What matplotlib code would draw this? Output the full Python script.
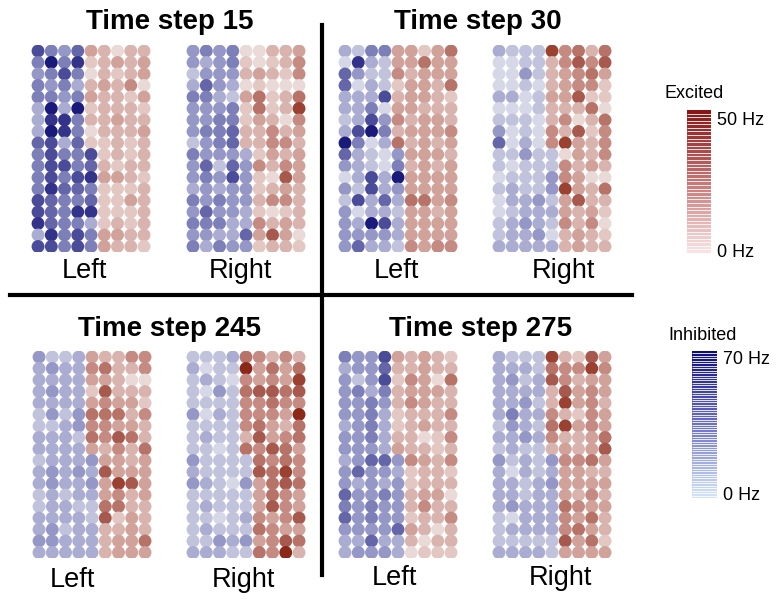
import numpy as np
import matplotlib.pyplot as plt
from matplotlib.colors import LinearSegmentedColormap, BoundaryNorm
from matplotlib.cm import ScalarMappable

plt.rcParams['font.family'] = ['Liberation Sans', 'DejaVu Sans']

W, H = 784, 603

# firing level 0-9 of each neuron, 18 rows x 9 columns per population.
# columns 1-4 and the lower half of column 5 are inhibited (blue),
# the upper half of column 5 and columns 6-9 are excited (red)
ts15_left = [
    [7, 5, 4, 6, 4, 3, 1, 3, 3],
    [5, 9, 5, 8, 2, 3, 4, 3, 4],
    [4, 5, 7, 5, 1, 3, 2, 3, 4],
    [5, 4, 5, 3, 3, 4, 3, 5, 1],
    [5, 5, 4, 5, 4, 3, 3, 2, 4],
    [3, 9, 3, 9, 2, 3, 3, 3, 2],
    [3, 8, 8, 5, 3, 3, 4, 3, 3],
    [3, 9, 8, 5, 1, 3, 3, 3, 4],
    [6, 7, 3, 6, 2, 2, 3, 2, 3],
    [5, 7, 5, 5, 7, 2, 3, 2, 3],
    [5, 7, 7, 5, 6, 3, 2, 3, 3],
    [5, 7, 5, 7, 8, 4, 4, 3, 2],
    [5, 8, 6, 6, 5, 2, 2, 2, 3],
    [7, 6, 5, 5, 6, 2, 2, 4, 3],
    [7, 6, 5, 8, 8, 2, 2, 2, 3],
    [8, 6, 5, 5, 3, 2, 3, 2, 3],
    [3, 8, 5, 7, 5, 4, 4, 3, 3],
    [7, 7, 5, 7, 5, 4, 3, 3, 2],
]
ts15_right = [
    [4, 5, 4, 5, 1, 1, 3, 3, 4],
    [4, 3, 4, 5, 2, 1, 2, 3, 5],
    [2, 4, 4, 4, 3, 4, 3, 2, 5],
    [3, 6, 4, 3, 1, 2, 1, 1, 1],
    [5, 5, 3, 2, 4, 6, 2, 3, 6],
    [4, 4, 4, 5, 2, 6, 2, 3, 8],
    [4, 4, 5, 5, 2, 4, 3, 1, 5],
    [4, 5, 5, 6, 3, 3, 5, 3, 4],
    [2, 4, 5, 6, 3, 3, 5, 5, 3],
    [5, 4, 4, 4, 3, 2, 4, 3, 4],
    [4, 6, 2, 6, 4, 5, 3, 5, 4],
    [4, 5, 4, 7, 4, 2, 1, 7, 4],
    [3, 4, 3, 4, 4, 2, 3, 4, 3],
    [5, 4, 5, 4, 4, 3, 5, 5, 3],
    [4, 6, 4, 4, 3, 2, 1, 2, 3],
    [5, 5, 5, 3, 3, 5, 3, 4, 3],
    [4, 4, 3, 3, 6, 4, 7, 4, 1],
    [5, 3, 5, 4, 4, 2, 3, 3, 2],
]
ts30_left = [
    [3, 2, 5, 5, 4, 4, 2, 4, 6],
    [1, 8, 3, 2, 4, 4, 6, 4, 4],
    [6, 4, 2, 2, 5, 3, 4, 4, 4],
    [6, 1, 3, 2, 2, 4, 4, 3, 6],
    [3, 3, 3, 7, 3, 4, 4, 3, 2],
    [3, 3, 5, 1, 4, 4, 3, 3, 3],
    [2, 3, 7, 4, 5, 3, 4, 4, 3],
    [3, 7, 9, 5, 3, 4, 4, 4, 5],
    [9, 5, 1, 3, 6, 3, 4, 3, 4],
    [6, 3, 2, 1, 4, 4, 4, 4, 3],
    [4, 3, 2, 1, 5, 3, 4, 3, 4],
    [1, 3, 7, 3, 9, 4, 4, 4, 4],
    [4, 2, 7, 3, 4, 4, 4, 4, 4],
    [2, 7, 3, 6, 3, 6, 6, 4, 5],
    [4, 1, 3, 3, 2, 4, 4, 3, 4],
    [4, 3, 9, 7, 3, 4, 4, 4, 4],
    [4, 4, 4, 4, 3, 4, 4, 4, 4],
    [4, 6, 3, 3, 2, 5, 4, 5, 5],
]
ts30_right = [
    [3, 2, 2, 2, 8, 5, 6, 3, 6],
    [1, 1, 2, 2, 3, 5, 7, 5, 7],
    [1, 1, 4, 2, 3, 4, 5, 6, 4],
    [1, 1, 2, 1, 3, 4, 5, 5, 2],
    [3, 3, 1, 2, 4, 4, 7, 2, 2],
    [1, 1, 1, 2, 3, 3, 3, 6, 1],
    [2, 2, 2, 1, 3, 5, 1, 3, 6],
    [4, 1, 2, 1, 5, 3, 7, 2, 5],
    [6, 1, 3, 1, 5, 8, 4, 3, 5],
    [2, 2, 4, 2, 2, 1, 4, 3, 5],
    [2, 1, 2, 2, 2, 5, 3, 4, 3],
    [1, 2, 2, 2, 4, 5, 4, 1, 1],
    [2, 3, 2, 2, 4, 8, 4, 3, 6],
    [1, 3, 3, 4, 2, 4, 7, 3, 3],
    [1, 2, 3, 3, 3, 4, 3, 4, 2],
    [2, 3, 4, 3, 2, 5, 3, 5, 1],
    [2, 3, 3, 4, 1, 3, 4, 3, 2],
    [3, 3, 3, 3, 3, 3, 4, 3, 3],
]
ts245_left = [
    [4, 2, 2, 3, 4, 3, 3, 5, 5],
    [3, 4, 3, 3, 5, 6, 3, 3, 5],
    [3, 3, 3, 3, 4, 4, 3, 1, 1],
    [3, 4, 3, 3, 2, 7, 3, 3, 3],
    [3, 3, 3, 3, 4, 5, 4, 4, 2],
    [2, 4, 2, 4, 6, 6, 6, 3, 5],
    [2, 2, 3, 4, 5, 5, 4, 4, 3],
    [3, 3, 3, 2, 6, 5, 7, 6, 3],
    [3, 3, 3, 3, 4, 3, 5, 3, 6],
    [2, 3, 3, 3, 4, 4, 4, 3, 4],
    [3, 4, 3, 4, 3, 7, 4, 4, 4],
    [3, 4, 3, 3, 4, 4, 8, 7, 4],
    [2, 3, 2, 3, 3, 4, 5, 3, 4],
    [2, 3, 3, 2, 2, 6, 6, 3, 3],
    [3, 3, 3, 3, 2, 7, 2, 4, 3],
    [3, 4, 2, 3, 3, 3, 3, 4, 3],
    [4, 4, 3, 3, 3, 3, 4, 4, 6],
    [3, 3, 3, 3, 3, 3, 4, 4, 4],
]
ts245_right = [
    [2, 2, 2, 3, 6, 5, 3, 5, 3],
    [3, 1, 2, 2, 9, 4, 6, 4, 6],
    [2, 3, 2, 1, 5, 4, 5, 4, 8],
    [2, 1, 4, 2, 6, 7, 7, 6, 7],
    [2, 2, 2, 2, 5, 5, 6, 5, 5],
    [4, 1, 3, 2, 5, 5, 5, 4, 9],
    [2, 2, 2, 2, 5, 6, 4, 3, 6],
    [2, 3, 2, 2, 3, 7, 4, 5, 6],
    [2, 2, 1, 2, 6, 5, 7, 6, 4],
    [4, 2, 2, 2, 2, 6, 5, 6, 5],
    [3, 2, 2, 2, 2, 7, 6, 8, 5],
    [4, 3, 2, 1, 4, 4, 6, 7, 6],
    [2, 2, 2, 2, 2, 4, 6, 5, 4],
    [2, 3, 2, 2, 2, 4, 7, 5, 4],
    [2, 2, 1, 2, 3, 5, 4, 5, 7],
    [2, 3, 2, 2, 2, 6, 5, 4, 4],
    [2, 2, 4, 3, 4, 4, 5, 7, 6],
    [3, 3, 3, 2, 2, 6, 5, 9, 3],
]
ts275_left = [
    [5, 4, 4, 7, 4, 3, 4, 3, 2],
    [3, 4, 4, 6, 3, 3, 4, 3, 3],
    [4, 2, 4, 7, 2, 5, 4, 1, 6],
    [4, 5, 3, 5, 3, 4, 4, 4, 3],
    [4, 4, 5, 4, 3, 5, 4, 3, 3],
    [4, 4, 5, 3, 2, 3, 3, 3, 5],
    [3, 4, 5, 3, 2, 3, 4, 3, 3],
    [4, 4, 5, 3, 3, 3, 1, 2, 5],
    [4, 4, 4, 3, 4, 3, 3, 2, 3],
    [3, 4, 6, 6, 4, 5, 4, 3, 5],
    [4, 6, 4, 4, 3, 2, 3, 3, 2],
    [4, 3, 4, 3, 4, 2, 3, 3, 3],
    [6, 4, 4, 5, 4, 3, 4, 4, 1],
    [5, 4, 5, 4, 4, 3, 5, 3, 3],
    [6, 4, 5, 4, 4, 2, 3, 3, 5],
    [4, 4, 4, 4, 6, 4, 3, 1, 3],
    [3, 3, 6, 3, 3, 3, 1, 3, 3],
    [3, 4, 4, 4, 3, 1, 2, 2, 2],
]
ts275_right = [
    [3, 2, 2, 2, 8, 3, 2, 7, 4],
    [3, 3, 3, 2, 6, 5, 5, 8, 5],
    [3, 4, 2, 3, 7, 5, 3, 4, 4],
    [3, 3, 3, 3, 3, 7, 4, 5, 4],
    [3, 3, 4, 2, 3, 8, 4, 5, 3],
    [3, 5, 3, 3, 5, 3, 2, 5, 4],
    [2, 4, 3, 2, 6, 8, 4, 5, 4],
    [3, 3, 4, 3, 5, 3, 3, 4, 6],
    [2, 3, 2, 2, 3, 4, 3, 4, 7],
    [4, 2, 3, 2, 4, 5, 5, 6, 4],
    [3, 1, 3, 2, 3, 4, 4, 3, 3],
    [3, 3, 2, 3, 4, 4, 4, 4, 4],
    [3, 3, 2, 3, 3, 4, 3, 5, 3],
    [3, 4, 3, 3, 3, 6, 5, 4, 4],
    [2, 1, 3, 3, 3, 5, 4, 6, 3],
    [2, 3, 3, 3, 3, 5, 6, 4, 3],
    [2, 2, 2, 2, 2, 7, 4, 6, 2],
    [3, 3, 3, 3, 2, 4, 4, 4, 4],
]

titles = ["Time step 15", "Time step 30", "Time step 245", "Time step 275"]
grids = [(ts15_left, ts15_right), (ts30_left, ts30_right),
         (ts245_left, ts245_right), (ts275_left, ts275_right)]

dot_cmap_inh = LinearSegmentedColormap.from_list("inh", ["#ececf2", "#8a8cc0", "#1a1a7a"])
dot_cmap_exc = LinearSegmentedColormap.from_list("exc", ["#f3eceb", "#cc9890", "#8c2818"])
bar_cmap_exc = LinearSegmentedColormap.from_list("bexc", ["#fbe2e2", "#c87474", "#8a1414"])
bar_cmap_inh = LinearSegmentedColormap.from_list("binh", ["#d2e4fb", "#6c70c8", "#0c0c80"])


def px_axes(fig, x0, y0, w, h):
    return fig.add_axes([x0 / W, 1 - (y0 + h) / H, w / W, h / H])


def draw_grid(fig, x0, y0, levels):
    levels = np.array(levels)
    rows, cols = np.indices(levels.shape)
    inh = (cols < 4) | ((cols == 4) & (rows >= 9))
    colors = np.where(inh[..., None], dot_cmap_inh(levels / 9), dot_cmap_exc(levels / 9))
    ax = px_axes(fig, x0 - 6.6, y0 - 5.75, 9 * 13.25, 18 * 11.5)
    ax.scatter(cols.ravel(), rows.ravel(), c=colors.reshape(-1, 4), s=86, linewidths=0)
    ax.set_xlim(-0.5, 8.5)
    ax.set_ylim(17.5, -0.5)
    ax.axis("off")


def draw_cbar(fig, box, cmap, vmax, n, ticks, labels):
    cax = px_axes(fig, *box)
    norm = BoundaryNorm(np.linspace(0, vmax, n + 1), cmap.N)
    cb = fig.colorbar(ScalarMappable(norm=norm, cmap=cmap), cax=cax, drawedges=True)
    cb.outline.set_visible(False)
    cb.dividers.set_color("white")
    cb.dividers.set_linewidth(0.6)
    cb.minorticks_off()
    cb.set_ticks(ticks)
    cb.set_ticklabels(labels)
    cax.tick_params(which="both", length=0, pad=4, labelsize=13)


fig = plt.figure(figsize=(W / 100, H / 100), dpi=100)
bg = fig.add_axes([0, 0, 1, 1])
bg.set_xlim(0, W)
bg.set_ylim(H, 0)
bg.axis("off")

# panel layout in pixels: grid origins (first dot) and text positions
grid_x = [(38, 193), (345, 499), (39, 193), (345, 499)]
grid_y = [51, 51, 357, 357]
title_xy = [(170, 22), (478, 22), (170, 329), (481, 329)]
side_xy = [((84, 271), (240, 271)), ((396, 271), (563, 271)),
           ((72, 580), (243, 580)), ((394, 578), (560, 578))]

for i in range(4):
    draw_grid(fig, grid_x[i][0], grid_y[i], grids[i][0])
    draw_grid(fig, grid_x[i][1], grid_y[i], grids[i][1])
    bg.text(*title_xy[i], titles[i], ha="center", va="center", fontsize=20, fontweight="bold")
    bg.text(*side_xy[i][0], "Left", ha="center", va="center", fontsize=19.5)
    bg.text(*side_xy[i][1], "Right", ha="center", va="center", fontsize=19.5)

bg.plot([322, 322], [25, 575], color="black", lw=3)
bg.plot([10, 632], [295, 295], color="black", lw=3)

draw_cbar(fig, (687, 110, 24, 143), bar_cmap_exc, 50, 40, [1, 47], ["0 Hz", "50 Hz"])
bg.text(694, 93, "Excited", ha="center", va="center", fontsize=13)
draw_cbar(fig, (692, 351, 25, 147), bar_cmap_inh, 70, 60, [2, 67], ["0 Hz", "70 Hz"])
bg.text(703, 335, "Inhibited", ha="center", va="center", fontsize=13)

fig.savefig("out.png", dpi=100)
